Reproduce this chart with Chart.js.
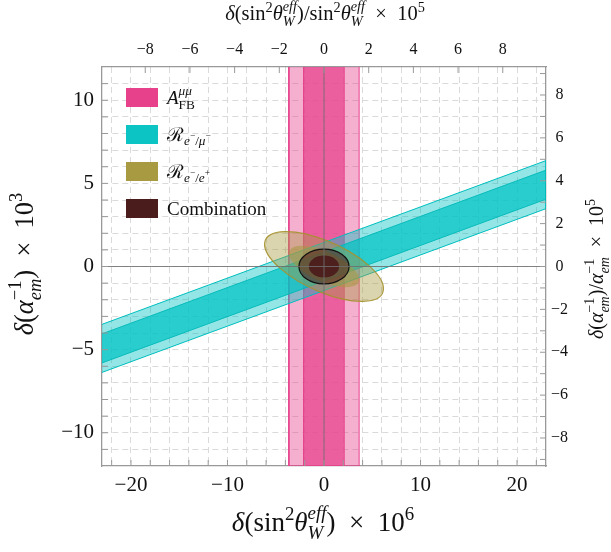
<!DOCTYPE html>
<html>
<head>
<meta charset="utf-8">
<script src="https://cdn.jsdelivr.net/npm/chart.js"></script>
<style>
  html, body { margin: 0; padding: 0; background: #fff; }
  #wrap { width: 611px; height: 552px; }
</style>
</head>
<body>
<div id="wrap"><canvas id="chart" width="611" height="552"></canvas></div>
<script>
// axis ranges and ticks (bottom: 10^6 * delta sin^2, left: 10^3 * delta alpha^-1)
const xRange = [-23, 23];
const yRange = [-12, 12];
const sin2ThetaEff = 0.2315;
const alphaInvMZ = 128.95;
const xTicks = [-22, -20, -18, -16, -14, -12, -10, -8, -6, -4, -2, 0, 2, 4, 6, 8, 10, 12, 14, 16, 18, 20, 22];
const xLabelTicks = [-20, -10, 0, 10, 20];
const yTicks = [-11, -10, -9, -8, -7, -6, -5, -4, -3, -2, -1, 0, 1, 2, 3, 4, 5, 6, 7, 8, 9, 10, 11];
const yLabelTicks = [-10, -5, 0, 5, 10];
const topTicks = [-8, -6, -4, -2, 0, 2, 4, 6, 8];
const rightTicks = [-9, -8, -7, -6, -5, -4, -3, -2, -1, 0, 1, 2, 3, 4, 5, 6, 7, 8, 9];
const rightLabelTicks = [-8, -6, -4, -2, 0, 2, 4, 6, 8];

// A_FB band (x limits)
const afbOuter = [-3.64, 3.64];
const afbInner = [-2.12, 2.12];
// R e-/mu- band: y limits at left edge and right edge
const eMuOuterLeft = [-6.37, -3.48];
const eMuOuterRight = [3.48, 6.37];
const eMuInnerLeft = [-5.8, -4.05];
const eMuInnerRight = [4.05, 5.8];
// R e-/e+ ellipses: center, semi-axes, tilt (data space, radians)
const eeCenter = [0, 0];
const eeOuterAxes = [6.31, 1.58];
const eeInnerAxes = [3.75, 0.94];
const eeTilt = -0.228;
// combination ellipses
const combCenter = [0, 0];
const combOuterAxes = [2.6, 1.05];
const combInnerAxes = [1.57, 0.66];
const combTilt = 0;

const FONT = "'Liberation Serif', 'DejaVu Serif', serif";
const TIMES = '\u2002×\u2002';

const theta = {t: 'θ', it: 1, sup: [{t: 'eff', it: 1}], sub: [{t: 'W', it: 1}]};
const alphaEm = {t: 'α', it: 1, sup: [{t: '−1'}], sub: [{t: 'em', it: 1}]};
const bottomTitle = [{t: 'δ', it: 1}, {t: '(sin', sup: [{t: '2'}]}, theta, {t: ')' + TIMES + '10', sup: [{t: '6'}]}];
const topTitle = [{t: 'δ', it: 1}, {t: '(sin', sup: [{t: '2'}]}, theta, {t: ')/sin', sup: [{t: '2'}]}, theta, {t: TIMES + '10', sup: [{t: '5'}]}];
const leftTitle = [{t: 'δ', it: 1}, {t: '('}, alphaEm, {t: ')' + TIMES + '10', sup: [{t: '3'}]}];
const rightTitle = [{t: 'δ', it: 1}, {t: '('}, alphaEm, {t: ')/'}, alphaEm, {t: TIMES + '10', sup: [{t: '5'}]}];

const legendLabels = [
    [{t: 'A', it: 1, sup: [{t: 'μμ', it: 1}], sub: [{t: 'FB'}]}],
    [{t: 'ℛ', sub: [{t: 'e', it: 1, sup: [{t: '−'}]}, {t: '/'}, {t: 'μ', it: 1, sup: [{t: '−'}]}]}],
    [{t: 'ℛ', sub: [{t: 'e', it: 1, sup: [{t: '−'}]}, {t: '/'}, {t: 'e', it: 1, sup: [{t: '+'}]}]}],
    [{t: 'Combination'}]
];
const legendColors = ['#e8418c', '#0cc4c4', '#a89a40', '#4b1c1c'];

function fmt(v) {
    return v < 0 ? '−' + Math.abs(v) : String(v);
}

// draws (or measures) a list of text runs with sup/sub scripts, baseline at y
function drawRuns(ctx, runs, x, y, size, draw) {
    let cx = x;
    for (const r of runs) {
        ctx.font = (r.it ? 'italic ' : '') + size + 'px ' + FONT;
        const w = ctx.measureText(r.t).width;
        if (draw) ctx.fillText(r.t, cx, y);
        cx += w;
        const both = r.sup && r.sub;
        let ws = 0, wb = 0;
        if (r.sup) ws = drawRuns(ctx, r.sup, cx, y - size * (both ? 0.45 : 0.4), size * 0.7, draw);
        if (r.sub) wb = drawRuns(ctx, r.sub, cx, y + size * (both ? 0.3 : 0.22), size * 0.7, draw);
        cx += Math.max(ws, wb);
    }
    return cx - x;
}

function drawCentered(ctx, runs, x, y, size, rot) {
    ctx.save();
    ctx.translate(x, y);
    if (rot) ctx.rotate(rot);
    ctx.fillStyle = '#111';
    ctx.textBaseline = 'alphabetic';
    ctx.textAlign = 'left';
    const w = drawRuns(ctx, runs, 0, 0, size, false);
    drawRuns(ctx, runs, -w / 2, 0, size, true);
    ctx.restore();
}

function ellipsePath(ctx, chart, c, ax, tilt) {
    const xs = chart.scales.x, ys = chart.scales.y;
    const px = xs.getPixelForValue(c[0]), py = ys.getPixelForValue(c[1]);
    const kx = xs.getPixelForValue(c[0] + 1) - px;
    const ky = ys.getPixelForValue(c[1] + 1) - py;
    ctx.save();
    ctx.translate(px, py);
    ctx.scale(kx, ky);
    ctx.beginPath();
    ctx.ellipse(0, 0, ax[0], ax[1], tilt, 0, 2 * Math.PI);
    ctx.restore();
}

function vBand(lim) {
    return [
        {x: lim[0], y: yRange[1]}, {x: lim[0], y: yRange[0]},
        {x: lim[1], y: yRange[0]}, {x: lim[1], y: yRange[1]}
    ];
}

function slantBand(left, right) {
    return [
        {x: xRange[0], y: left[1]}, {x: xRange[1], y: right[1]},
        {x: xRange[1], y: right[0]}, {x: xRange[0], y: left[0]}
    ];
}

function band(data, fill, border) {
    return {
        data: data,
        fill: 'shape',
        backgroundColor: fill,
        borderColor: border,
        borderWidth: 1,
        pointRadius: 0,
        tension: 0
    };
}

const overlay = {
    id: 'overlay',
    afterDatasetsDraw(chart) {
        const ctx = chart.ctx;
        const a = chart.chartArea;
        ctx.save();
        ctx.beginPath();
        ctx.rect(a.left, a.top, a.right - a.left, a.bottom - a.top);
        ctx.clip();

        ellipsePath(ctx, chart, eeCenter, eeOuterAxes, eeTilt);
        ctx.fillStyle = 'rgba(168,152,64,0.42)';
        ctx.fill();
        ctx.strokeStyle = 'rgba(165,145,45,0.9)';
        ctx.lineWidth = 1.2;
        ctx.stroke();

        ellipsePath(ctx, chart, eeCenter, eeInnerAxes, eeTilt);
        ctx.fillStyle = 'rgba(168,152,64,0.55)';
        ctx.fill();

        ellipsePath(ctx, chart, combCenter, combOuterAxes, combTilt);
        ctx.fillStyle = 'rgba(75,28,28,0.55)';
        ctx.fill();
        ctx.strokeStyle = '#111';
        ctx.lineWidth = 1.2;
        ctx.stroke();

        ellipsePath(ctx, chart, combCenter, combInnerAxes, combTilt);
        ctx.fillStyle = 'rgba(75,28,28,0.93)';
        ctx.fill();

        // zero axes
        const x0 = chart.scales.x.getPixelForValue(0);
        const y0 = chart.scales.y.getPixelForValue(0);
        ctx.strokeStyle = 'rgba(110,110,110,0.85)';
        ctx.lineWidth = 1;
        ctx.beginPath();
        ctx.moveTo(a.left, y0); ctx.lineTo(a.right, y0);
        ctx.moveTo(x0, a.top); ctx.lineTo(x0, a.bottom);
        ctx.stroke();
        ctx.restore();

        // inward tick marks
        ctx.save();
        ctx.strokeStyle = '#999';
        ctx.lineWidth = 1;
        ctx.beginPath();
        const tl = 6;
        for (const t of chart.scales.x.ticks) {
            const p = chart.scales.x.getPixelForValue(t.value);
            ctx.moveTo(p, a.bottom); ctx.lineTo(p, a.bottom - tl);
        }
        for (const t of chart.scales.x2.ticks) {
            const p = chart.scales.x2.getPixelForValue(t.value);
            ctx.moveTo(p, a.top); ctx.lineTo(p, a.top + tl);
        }
        for (const t of chart.scales.y.ticks) {
            const p = chart.scales.y.getPixelForValue(t.value);
            ctx.moveTo(a.left, p); ctx.lineTo(a.left + tl, p);
        }
        for (const t of chart.scales.y2.ticks) {
            const p = chart.scales.y2.getPixelForValue(t.value);
            ctx.moveTo(a.right, p); ctx.lineTo(a.right - tl, p);
        }
        ctx.stroke();
        ctx.restore();
    },
    afterDraw(chart) {
        const ctx = chart.ctx;
        // legend
        legendLabels.forEach((lab, i) => {
            const top = 88 + i * 37;
            ctx.fillStyle = legendColors[i];
            ctx.fillRect(126, top, 32, 19);
            ctx.save();
            ctx.fillStyle = '#111';
            ctx.textBaseline = 'alphabetic';
            ctx.textAlign = 'left';
            drawRuns(ctx, lab, 167, top + 15.5, 19, true);
            ctx.restore();
        });
        // axis titles
        drawCentered(ctx, bottomTitle, 323, 531, 27, 0);
        drawCentered(ctx, topTitle, 325, 20, 20.5, 0);
        drawCentered(ctx, leftTitle, 33, 264, 26.5, -Math.PI / 2);
        drawCentered(ctx, rightTitle, 603, 269, 20, -Math.PI / 2);
    }
};

const tickFont = {family: FONT, size: 21};
const smallFont = {family: FONT, size: 16};
const frame = {display: true, color: '#999', width: 1.3, dash: [6, 4]};

new Chart(document.getElementById('chart'), {
    type: 'line',
    data: {
        datasets: [
            band(slantBand(eMuInnerLeft, eMuInnerRight), 'rgba(0,196,196,0.72)', 'rgba(0,185,185,0.9)'),
            band(slantBand(eMuOuterLeft, eMuOuterRight), 'rgba(0,196,196,0.42)', 'rgba(0,190,190,1)'),
            band(vBand(afbInner), 'rgba(232,65,140,0.72)', 'rgba(232,65,140,0.6)'),
            band(vBand(afbOuter), 'rgba(232,65,140,0.42)', 'rgba(232,65,140,1)')
        ]
    },
    options: {
        responsive: false,
        devicePixelRatio: 1,
        animation: false,
        events: [],
        layout: {padding: 0},
        plugins: {legend: {display: false}, tooltip: {enabled: false}},
        scales: {
            x: {
                type: 'linear', position: 'bottom', min: xRange[0], max: xRange[1],
                afterBuildTicks: s => { s.ticks = xTicks.map(v => ({value: v})); },
                ticks: {
                    callback: v => xLabelTicks.includes(v) ? fmt(v) : '',
                    font: tickFont, color: '#111', padding: 7, maxRotation: 0, autoSkip: false
                },
                grid: {color: '#dadada', lineWidth: 1, drawTicks: false},
                border: frame,
                afterFit: s => { s.height = 86; }
            },
            x2: {
                type: 'linear', position: 'top',
                min: xRange[0] / (10 * sin2ThetaEff), max: xRange[1] / (10 * sin2ThetaEff),
                afterBuildTicks: s => { s.ticks = topTicks.map(v => ({value: v})); },
                ticks: {callback: v => fmt(v), font: smallFont, color: '#111', padding: 8, maxRotation: 0, autoSkip: false},
                grid: {drawOnChartArea: false, drawTicks: false},
                border: frame,
                afterFit: s => { s.height = 67; }
            },
            y: {
                type: 'linear', position: 'left', min: yRange[0], max: yRange[1],
                afterBuildTicks: s => { s.ticks = yTicks.map(v => ({value: v})); },
                ticks: {
                    callback: v => yLabelTicks.includes(v) ? fmt(v) : '',
                    font: tickFont, color: '#111', padding: 8, autoSkip: false
                },
                grid: {color: '#dadada', lineWidth: 1, drawTicks: false},
                border: frame,
                afterFit: s => { s.width = 102; }
            },
            y2: {
                type: 'linear', position: 'right',
                min: yRange[0] * 100 / alphaInvMZ, max: yRange[1] * 100 / alphaInvMZ,
                afterBuildTicks: s => { s.ticks = rightTicks.map(v => ({value: v})); },
                ticks: {
                    callback: v => rightLabelTicks.includes(v) ? fmt(v) : '',
                    font: smallFont, color: '#111', padding: 5, crossAlign: 'center', autoSkip: false
                },
                grid: {drawOnChartArea: false, drawTicks: false},
                border: frame,
                afterFit: s => { s.width = 65; }
            }
        }
    },
    plugins: [overlay]
});
</script>
</body>
</html>
